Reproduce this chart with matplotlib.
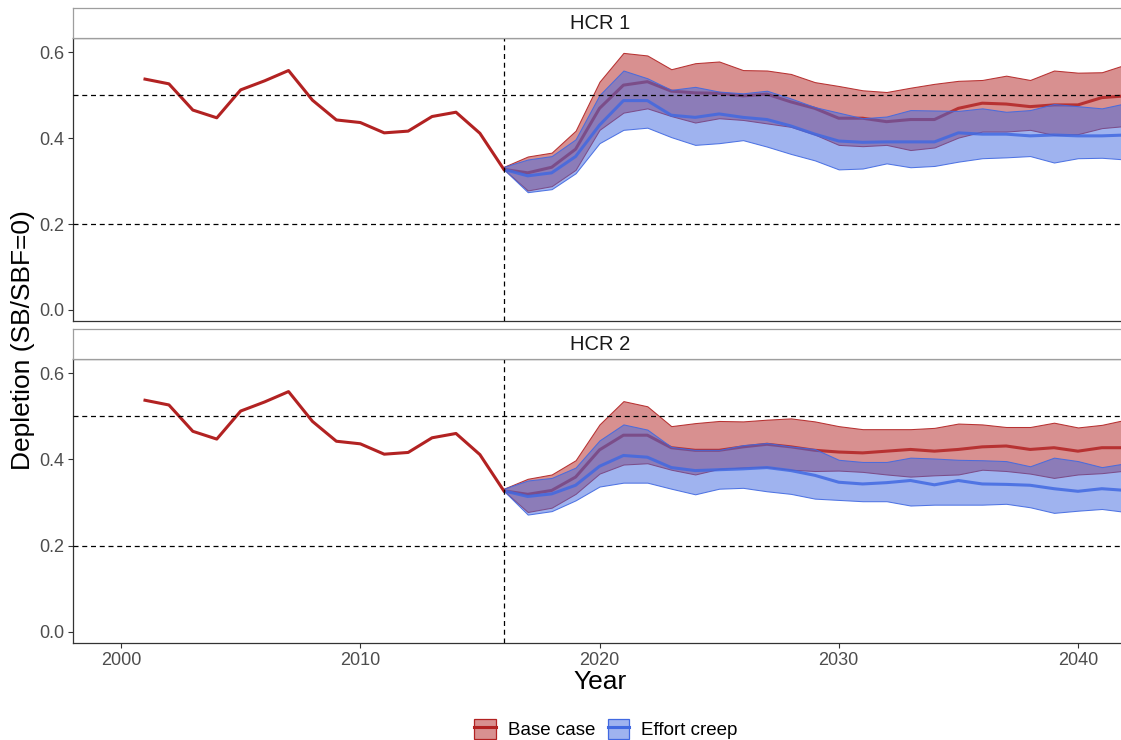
import matplotlib
matplotlib.use("Agg")
import matplotlib.pyplot as plt
import numpy as np
from matplotlib.colors import to_rgba
from matplotlib.patches import Patch
from matplotlib.lines import Line2D

plt.rcParams['font.family'] = ['Liberation Sans', 'DejaVu Sans']

# historical depletion
years_hist = list(range(2001, 2017))
hist = [0.537, 0.526, 0.465, 0.447, 0.512, 0.533, 0.557, 0.488, 0.442, 0.436,
        0.412, 0.416, 0.450, 0.460, 0.411, 0.327]

# projections 2016-2042
years_proj = list(range(2016, 2043))

hcr1_base_hi = [0.333, 0.357, 0.366, 0.417, 0.531, 0.598, 0.592, 0.560, 0.574, 0.578, 0.558, 0.557, 0.549, 0.530,
                0.521, 0.511, 0.507, 0.517, 0.526, 0.533, 0.535, 0.545, 0.535, 0.557, 0.552, 0.553, 0.571]
hcr1_base_med = [0.327, 0.319, 0.332, 0.374, 0.469, 0.523, 0.531, 0.509, 0.505, 0.504, 0.498, 0.502, 0.484, 0.469,
                 0.446, 0.446, 0.438, 0.443, 0.443, 0.469, 0.481, 0.479, 0.473, 0.477, 0.477, 0.494, 0.498]
hcr1_base_lo = [0.327, 0.278, 0.288, 0.326, 0.419, 0.459, 0.469, 0.451, 0.436, 0.446, 0.442, 0.434, 0.426, 0.408,
                0.384, 0.381, 0.384, 0.372, 0.378, 0.401, 0.415, 0.415, 0.419, 0.407, 0.409, 0.423, 0.428]
hcr1_creep_hi = [0.333, 0.350, 0.358, 0.397, 0.500, 0.557, 0.539, 0.512, 0.519, 0.508, 0.504, 0.510, 0.492, 0.472,
                 0.459, 0.446, 0.450, 0.465, 0.464, 0.463, 0.469, 0.461, 0.465, 0.479, 0.474, 0.469, 0.481]
hcr1_creep_med = [0.327, 0.312, 0.319, 0.357, 0.430, 0.487, 0.487, 0.453, 0.448, 0.456, 0.448, 0.443, 0.428, 0.409,
                  0.393, 0.390, 0.391, 0.391, 0.391, 0.412, 0.409, 0.409, 0.405, 0.407, 0.405, 0.405, 0.407]
hcr1_creep_lo = [0.327, 0.274, 0.281, 0.318, 0.388, 0.419, 0.424, 0.402, 0.384, 0.388, 0.395, 0.380, 0.363, 0.348,
                 0.327, 0.329, 0.341, 0.332, 0.335, 0.345, 0.353, 0.355, 0.358, 0.343, 0.353, 0.354, 0.350]

hcr2_base_hi = [0.332, 0.355, 0.365, 0.398, 0.481, 0.535, 0.523, 0.477, 0.484, 0.489, 0.488, 0.492, 0.495, 0.488,
                0.477, 0.470, 0.470, 0.470, 0.473, 0.483, 0.481, 0.475, 0.475, 0.485, 0.474, 0.480, 0.492]
hcr2_base_med = [0.327, 0.319, 0.328, 0.359, 0.422, 0.456, 0.456, 0.427, 0.421, 0.421, 0.429, 0.435, 0.429, 0.421,
                 0.417, 0.415, 0.419, 0.423, 0.419, 0.423, 0.429, 0.431, 0.423, 0.427, 0.419, 0.427, 0.427]
hcr2_base_lo = [0.327, 0.278, 0.288, 0.320, 0.367, 0.388, 0.391, 0.376, 0.365, 0.378, 0.381, 0.382, 0.376, 0.373,
                0.374, 0.371, 0.365, 0.360, 0.363, 0.365, 0.376, 0.373, 0.367, 0.357, 0.365, 0.368, 0.374]
hcr2_creep_hi = [0.332, 0.351, 0.357, 0.381, 0.444, 0.481, 0.469, 0.429, 0.422, 0.422, 0.433, 0.438, 0.430, 0.424,
                 0.399, 0.394, 0.394, 0.404, 0.402, 0.399, 0.398, 0.396, 0.384, 0.404, 0.396, 0.382, 0.391]
hcr2_creep_med = [0.327, 0.314, 0.320, 0.340, 0.384, 0.409, 0.405, 0.381, 0.374, 0.376, 0.378, 0.381, 0.374, 0.363,
                  0.347, 0.343, 0.346, 0.351, 0.341, 0.351, 0.343, 0.342, 0.340, 0.332, 0.326, 0.332, 0.328]
hcr2_creep_lo = [0.327, 0.272, 0.280, 0.305, 0.337, 0.346, 0.346, 0.332, 0.319, 0.332, 0.334, 0.326, 0.320, 0.309,
                 0.306, 0.303, 0.303, 0.293, 0.295, 0.295, 0.295, 0.297, 0.289, 0.276, 0.281, 0.285, 0.278]

panel_titles = ['HCR 1', 'HCR 2']
scenarios = ['Base case', 'Effort creep']
colors = ['#B22222', '#4169E1']

panels = [
    [(hcr1_base_lo, hcr1_base_med, hcr1_base_hi), (hcr1_creep_lo, hcr1_creep_med, hcr1_creep_hi)],
    [(hcr2_base_lo, hcr2_base_med, hcr2_base_hi), (hcr2_creep_lo, hcr2_creep_med, hcr2_creep_hi)],
]

W, H = 1121, 740
fig = plt.figure(figsize=(W / 100, H / 100), dpi=100)

# panel boxes in pixels (left, top, right, bottom)
panel_px = [(73, 38, 1121, 321), (73, 359, 1121, 643)]
strip_h = 30
center_px = 600

for i, (l, t, r, b) in enumerate(panel_px):
    ax = fig.add_axes([l / W, 1 - b / H, (r - l) / W, (b - t) / H])
    ax.set_xlim(1997.99, 2041.8)
    ax.set_ylim(-0.0256, 0.6326)

    for j, (lo, med, hi) in enumerate(panels[i]):
        ax.fill_between(years_proj, lo, hi, facecolor=to_rgba(colors[j], 0.5),
                        edgecolor=to_rgba(colors[j], 0.9), linewidth=0.75, zorder=2 + 2 * j)
        ax.plot(years_proj, med, color=colors[j], lw=2.2, alpha=0.85,
                solid_capstyle='butt', zorder=3 + 2 * j)
    ax.plot(years_hist, hist, color=colors[0], lw=2.2, zorder=6)

    for yv in (0.2, 0.5):
        ax.axhline(yv, color='black', lw=0.9, ls=(0, (4, 3)), zorder=7)
    ax.axvline(2016, color='black', lw=0.9, ls=(0, (4, 3)), zorder=7)

    ax.set_yticks([0.0, 0.2, 0.4, 0.6])
    ax.set_yticklabels(['0.0', '0.2', '0.4', '0.6'])
    ax.set_xticks([2000, 2010, 2020, 2030, 2040])
    ax.tick_params(axis='both', colors='#333333', labelcolor='#4D4D4D',
                   labelsize=13, length=3.5, width=0.8, pad=3)
    if i == 0:
        ax.tick_params(axis='x', labelbottom=False, length=0)
    for side in ax.spines.values():
        side.set_color('#333333')
        side.set_linewidth(0.9)
    ax.spines['right'].set_visible(False)

    # facet strip
    sax = fig.add_axes([l / W, 1 - t / H, (r - l) / W, strip_h / H])
    sax.set_xticks([])
    sax.set_yticks([])
    for side in sax.spines.values():
        side.set_color('#9E9E9E')
        side.set_linewidth(0.9)
    sax.spines['right'].set_visible(False)
    sax.text((center_px - l) / (r - l), 0.47, panel_titles[i], ha='center', va='center',
             fontsize=14.5, color='#1A1A1A', transform=sax.transAxes)

fig.text(center_px / W, 1 - 682 / H, 'Year', ha='center', va='center', fontsize=19)
fig.text(23 / W, 1 - 340 / H, 'Depletion (SB/SBF=0)', ha='center', va='center',
         rotation=90, fontsize=19)

handles = []
for c in colors:
    handles.append((Patch(facecolor=to_rgba(c, 0.5), edgecolor=c, linewidth=0.9),
                    Line2D([], [], color=c, lw=2.2)))
fig.legend(handles, scenarios, loc='center', bbox_to_anchor=(606 / W, 1 - 729 / H),
           ncol=2, frameon=False, fontsize=13.5, handlelength=1.17, handleheight=1.3,
           columnspacing=0.64, handletextpad=0.64, borderpad=0)

fig.savefig('out.png', dpi=100)
